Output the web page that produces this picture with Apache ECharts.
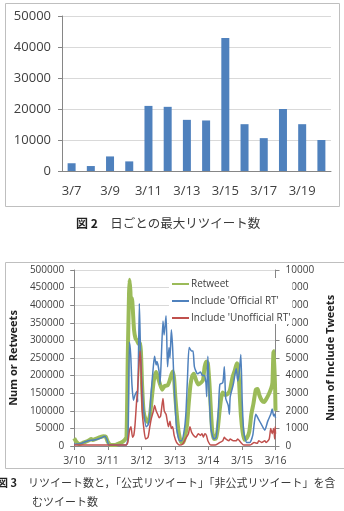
<!DOCTYPE html>
<html>
<head>
<meta charset="utf-8">
<script src="https://cdn.jsdelivr.net/npm/echarts@6/dist/echarts.min.js"></script>
<style>
  html, body { margin: 0; padding: 0; background: #fff; }
  #main { width: 344px; height: 511px; }
</style>
</head>
<body>
<div id="main"></div>
<script>
// 図2 日ごとの最大リツイート数
var days1 = ['3/7', '3/8', '3/9', '3/10', '3/11', '3/12', '3/13', '3/14', '3/15', '3/16', '3/17', '3/18', '3/19', '3/20'];
var maxRetweet = [2500, 1600, 4700, 3100, 21000, 20700, 16500, 16300, 42900, 15100, 10600, 20000, 15100, 10000];

// 図3 x = 3/10 0時からの経過時間(h)
var days2 = ['3/10', '3/11', '3/12', '3/13', '3/14', '3/15', '3/16'];
var legendNames = ['Retweet', "Include 'Official RT'", "Include 'Unofficial RT'"];

// Retweet (左軸)
var retweet = [[0,22000],[1.5,12000],[3.6,5000],[6.8,10000],[10,15000],[12.2,20000],[13.3,17000],[15.4,20000],[18.6,25000],[20.8,28000],[22.5,27000],[24,12000],[26,3000],[29.3,3000],[32.5,8000],[34.7,12000],[36.2,18000],[37.4,25000],[38.3,250000],[39.2,430000],[39.6,472000],[40.2,440000],[40.6,400000],[41.3,420000],[41.9,390000],[42.8,330000],[43.9,305000],[44.9,300000],[46,290000],[46.9,295000],[47.7,270000],[48.6,170000],[49.6,100000],[51.1,75000],[52.8,68000],[54.3,90000],[55.6,140000],[57.1,190000],[58.6,210000],[59.9,195000],[61.4,175000],[62.9,160000],[64.6,170000],[66.8,172000],[68.2,185000],[69.7,205000],[70.6,212000],[71.5,190000],[72.3,140000],[73.6,80000],[74.9,35000],[76.4,12000],[77.9,10000],[79.2,25000],[80.7,60000],[81.9,120000],[83.2,175000],[84.5,200000],[85.6,205000],[87.1,188000],[88.8,175000],[90.7,180000],[92.2,188000],[93.3,225000],[94.6,240000],[95.6,235000],[96.7,180000],[97.8,100000],[98.8,40000],[100.1,20000],[101.4,22000],[102.7,50000],[104,100000],[105.3,140000],[106.3,152000],[108,145000],[109.8,148000],[111.5,160000],[113.2,195000],[114.9,215000],[116.4,235000],[117.2,230000],[118.1,170000],[119.2,90000],[120.5,40000],[121.7,18000],[123.4,22000],[125.2,40000],[126.7,90000],[128.2,120000],[129.9,160000],[131.2,162000],[132.4,145000],[134.1,130000],[135.9,125000],[137.6,135000],[139.5,150000],[141,165000],[141.8,180000],[142.5,265000],[143.1,270000],[144,100000]];

// Include 'Official RT' (右軸)
var officialRT = [[0,100],[5,150],[10,300],[15,350],[19,450],[22,550],[23.5,350],[25,50],[37,50],[38.5,500],[39.5,5900],[40.4,5200],[41.3,3500],[42.4,2600],[43.5,2900],[44.9,3100],[45.4,2500],[46.6,8100],[47.5,5200],[48.6,3300],[50,1800],[51.5,1100],[52.8,1200],[53.9,1600],[55,3000],[56.7,4600],[57.5,5100],[58.6,4600],[59.2,4800],[60.8,4200],[61.4,3500],[62.3,5000],[63.5,7100],[64.3,6300],[65.7,7400],[66.4,5400],[66.8,4500],[67.8,5600],[68.5,5000],[69.5,6600],[70.4,5600],[71.2,4000],[72.1,2500],[73.2,1000],[75.3,300],[76.8,300],[78.9,1000],[80,2000],[81.1,4000],[82.2,5600],[83.9,5400],[85,5400],[86,4500],[88.2,4100],[90.3,4200],[91.8,4000],[93.1,4000],[94.2,3600],[94.8,2800],[95.6,5100],[96.3,3500],[97.8,1000],[99.9,400],[101.6,500],[103.1,2000],[104.2,3500],[106.3,3600],[107.4,4500],[108.4,2700],[110.2,2300],[111,1800],[111.6,2800],[113.8,3500],[115.9,4400],[117,3700],[118.1,4200],[119.2,5200],[120.2,2500],[121.3,800],[123.4,200],[125.6,200],[127.7,600],[128.8,1300],[129.9,1800],[132,1500],[134.1,1200],[136.3,900],[138.4,1400],[140.6,1800],[141.6,2100],[142.7,1700],[143.4,1800],[144,1600]];

// Include 'Unofficial RT' (右軸)
var unofficialRT = [[0,50],[37,50],[38.3,200],[39.6,900],[40.6,1100],[41.7,500],[42.6,600],[43.5,1200],[44.6,2500],[45.2,3000],[46.2,4500],[47.1,5400],[47.8,4500],[48.6,2000],[50.1,800],[51.1,400],[52.8,500],[53.9,1000],[55,1500],[56.7,2000],[57.5,2300],[58.6,2000],[59.7,1800],[60.8,1600],[61.8,1700],[63.5,2700],[64.4,2000],[65.7,1800],[66.4,1500],[67.4,1100],[68.5,1400],[69.5,1000],[70.4,1100],[71.5,600],[73.2,200],[75.3,50],[77.5,100],[79.6,400],[81.7,700],[82.8,1100],[83.9,800],[85.4,600],[87.1,500],[88.8,700],[90.3,600],[91.4,700],[92.4,500],[93.5,700],[94.6,600],[95.6,300],[97.8,50],[101,50],[104.2,200],[106.3,300],[107.4,500],[108.4,400],[110.6,300],[111.6,400],[113.8,300],[115.9,300],[117,400],[119.2,200],[121.3,50],[125.6,50],[128.8,200],[131,150],[132,300],[134.1,200],[136.3,300],[137.3,200],[139.5,400],[140.6,1000],[141.6,700],[142.7,1000],[143.4,400],[143.8,1100],[144,700]];

var axisGray = '#868686';
var gridGray = '#d9d9d9';
var textGray = '#404040';
var font = 'Open Sans';
var jpFont = 'Noto Sans CJK JP';

// カンマ区切りなしで表示
function plainNum(v) {
  return String(v);
}

var myChart = echarts.init(document.getElementById('main'));

var option = {
  animation: false,
  backgroundColor: '#fff',
  textStyle: { fontFamily: font },
  grid: [
    { left: 62, top: 16, width: 269, height: 155 },
    { left: 64, top: 270, width: 225, height: 176 }
  ],
  legend: {
    data: legendNames,
    orient: 'vertical',
    left: 169,
    top: 278,
    itemWidth: 17,
    itemHeight: 1,
    itemGap: 7,
    padding: [1, 2, 1, 2],
    backgroundColor: '#fff',
    itemStyle: { opacity: 0 },
    textStyle: { fontSize: 10, color: textGray, fontFamily: font, padding: [0, 0, 0, -3] }
  },
  xAxis: [{
    // 図2
    type: 'category',
    gridIndex: 0,
    data: days1,
    boundaryGap: true,
    axisLine: { lineStyle: { color: axisGray } },
    axisTick: { interval: 1, length: 4, lineStyle: { color: axisGray } },
    axisLabel: { interval: 1, margin: 14, fontSize: 13, color: textGray }
  }, {
    // 図3
    type: 'value',
    gridIndex: 1,
    min: 0,
    max: 144,
    interval: 24,
    axisLine: { show: true, lineStyle: { color: axisGray } },
    axisTick: { show: true, length: 4, lineStyle: { color: axisGray } },
    axisLabel: {
      margin: 10, fontSize: 10.5, color: textGray,
      formatter: function (v) { return days2[Math.round(v / 24)]; }
    },
    splitLine: { show: false }
  }],
  yAxis: [{
    type: 'value',
    gridIndex: 0,
    min: 0,
    max: 50000,
    interval: 10000,
    axisLine: { show: true, lineStyle: { color: axisGray } },
    axisTick: { show: true, length: 4, lineStyle: { color: axisGray } },
    axisLabel: { margin: 11, fontSize: 13, color: textGray, formatter: plainNum },
    splitLine: { lineStyle: { color: gridGray } }
  }, {
    type: 'value',
    gridIndex: 1,
    position: 'left',
    min: 0,
    max: 500000,
    interval: 50000,
    name: 'Num or Retweets',
    nameLocation: 'middle',
    nameGap: 50,
    nameTextStyle: { fontSize: 11, fontWeight: 'bold', color: '#222' },
    axisLine: { show: true, lineStyle: { color: axisGray } },
    axisTick: { show: true, length: 4, lineStyle: { color: axisGray } },
    axisLabel: { margin: 10, fontSize: 10, color: textGray, formatter: plainNum },
    splitLine: { lineStyle: { color: gridGray } }
  }, {
    type: 'value',
    gridIndex: 1,
    position: 'right',
    min: 0,
    max: 10000,
    interval: 1000,
    name: 'Num of Include Tweets',
    nameLocation: 'middle',
    nameGap: 45,
    nameRotate: 90,
    nameTextStyle: { fontSize: 11, fontWeight: 'bold', color: '#222' },
    axisLine: { show: true, lineStyle: { color: axisGray } },
    axisTick: { show: true, length: 4, lineStyle: { color: axisGray } },
    axisLabel: { margin: 10, fontSize: 10, color: textGray, formatter: plainNum },
    splitLine: { show: false }
  }],
  series: [{
    name: '最大リツイート数',
    type: 'bar',
    xAxisIndex: 0,
    yAxisIndex: 0,
    barWidth: 8,
    itemStyle: { color: '#4f81bd' },
    data: maxRetweet
  }, {
    name: legendNames[0],
    type: 'line',
    xAxisIndex: 1,
    yAxisIndex: 1,
    symbol: 'none',
    smooth: 0.2,
    lineStyle: { color: '#9bbb59', width: 4 },
    itemStyle: { color: '#9bbb59' },
    data: retweet
  }, {
    name: legendNames[1],
    type: 'line',
    xAxisIndex: 1,
    yAxisIndex: 2,
    symbol: 'none',
    smooth: 0.2,
    lineStyle: { color: '#4f81bd', width: 1.5 },
    itemStyle: { color: '#4f81bd' },
    data: officialRT
  }, {
    name: legendNames[2],
    type: 'line',
    xAxisIndex: 1,
    yAxisIndex: 2,
    symbol: 'none',
    smooth: 0.2,
    lineStyle: { color: '#c0504d', width: 1.5 },
    itemStyle: { color: '#c0504d' },
    data: unofficialRT
  }],
  graphic: [
    // 枠
    { type: 'rect', z: -1, shape: { x: 5.5, y: 3.5, width: 334, height: 203 }, style: { fill: null, stroke: '#bfbfbf', lineWidth: 1 } },
    { type: 'rect', z: -1, shape: { x: 5.5, y: 262.5, width: 345, height: 206 }, style: { fill: null, stroke: '#bfbfbf', lineWidth: 1 } },
    // キャプション
    {
      type: 'text', left: 76, top: 217,
      style: {
        text: '{b|図 2}　日ごとの最大リツイート数',
        fontFamily: jpFont, fontSize: 12.5, fill: '#3a3a3a',
        rich: { b: { fontWeight: 'bold', fontSize: 12, fontFamily: jpFont, fill: '#222' } }
      }
    },
    {
      type: 'text', left: -3, top: 477,
      style: {
        text: '{b|図 3}　リツイート数と，「公式リツイート」「非公式リツイート」を含',
        fontFamily: jpFont, fontSize: 11, fill: '#3a3a3a',
        rich: { b: { fontWeight: 'bold', fontSize: 11, fontFamily: jpFont, fill: '#222' } }
      }
    },
    {
      type: 'text', left: 32, top: 496,
      style: { text: 'むツイート数', fontFamily: jpFont, fontSize: 11, fill: '#3a3a3a' }
    }
  ]
};

myChart.setOption(option);
</script>
</body>
</html>
